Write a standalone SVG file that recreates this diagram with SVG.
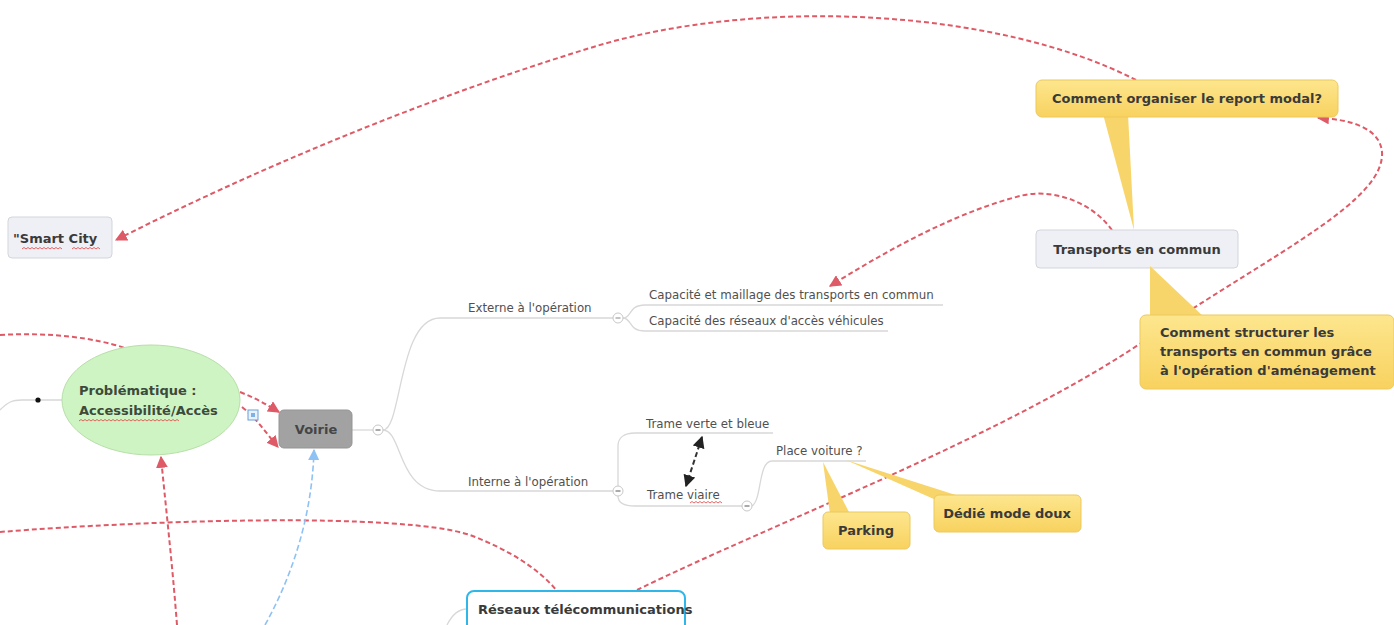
<svg xmlns="http://www.w3.org/2000/svg" width="1394" height="625" viewBox="0 0 1394 625">
<style>
.bold{font-family:"DejaVu Sans","Verdana",sans-serif;font-weight:bold;font-size:13px;fill:#3a3a3a}
.norm{font-family:"DejaVu Sans","Verdana",sans-serif;font-size:11.8px;fill:#505050}
.branch{fill:none;stroke:#d8d8d8;stroke-width:1.3}
.rel{fill:none;stroke:#de5a66;stroke-width:2;stroke-dasharray:5,3}
.relb{fill:none;stroke:#8fc2f4;stroke-width:1.6;stroke-dasharray:6,3}
.relk{fill:none;stroke:#333;stroke-width:2;stroke-dasharray:5,3}
.yellow{fill:url(#yg);stroke:#ecc95f;stroke-width:1}
.tail{fill:#f8d56a;stroke:none}
.grey{fill:#eff0f5;stroke:#d3d5dd;stroke-width:1}
.coll{fill:#fff;stroke:#c8c8c8;stroke-width:1}
.squig{fill:none;stroke:#e04040;stroke-width:0.8}
</style>
<defs>
<linearGradient id="yg" x1="0" y1="0" x2="0" y2="1">
<stop offset="0" stop-color="#fde68e"/>
<stop offset="1" stop-color="#f8d25f"/>
</linearGradient>
<marker id="ar" viewBox="0 0 10 10" refX="9" refY="5" markerWidth="6" markerHeight="6" orient="auto-start-reverse" markerUnits="strokeWidth">
<path d="M0,0 L10,5 L0,10 z" fill="#de5a66"/>
</marker>
<marker id="ab" viewBox="0 0 10 10" refX="9" refY="5" markerWidth="7" markerHeight="7" orient="auto-start-reverse" markerUnits="strokeWidth">
<path d="M0,0 L10,5 L0,10 z" fill="#8fc2f4"/>
</marker>
<marker id="ak" viewBox="0 0 10 10" refX="9" refY="5" markerWidth="6" markerHeight="6" orient="auto-start-reverse" markerUnits="strokeWidth">
<path d="M0,0 L10,5 L0,10 z" fill="#222"/>
</marker>
</defs>
<rect width="1394" height="625" fill="#fff"/>

<g id="branches">
<path class="branch" d="M0,410 C8,402 12,400 22,400 L62,400"/>
<circle cx="38" cy="400" r="2.6" fill="#111"/>
<path class="branch" d="M352,430 L373,430"/>
<path class="branch" d="M383,430 C402,430 398,318 440,318 L613,318"/>
<path class="branch" d="M383,430 C402,430 398,491 440,491 L613,491"/>
<path class="branch" d="M623,318 C632,318 628,305 645,305 L943,305"/>
<path class="branch" d="M623,318 C632,318 628,331 645,331 L888,331"/>
<path class="branch" d="M618,486 L618,446 C618,438 624,433 635,433 L773,433"/>
<path class="branch" d="M618,496 C618,503 624,506 635,506 L742,506"/>
<path class="branch" d="M752,506 C762,500 758,461 772,461 L866,461"/>
<path class="branch" d="M447,625 C452,615 458,609 467,609"/>
</g>

<g id="connectors">
<path class="rel" d="M1136,80 C1000,10 760,-5 590,48 C420,100 250,172 116,240" marker-end="url(#ar)"/>
<path class="rel" d="M1112,230 C1090,200 1050,188 1020,196 C950,214 880,255 830,286" marker-end="url(#ar)"/>
<path class="rel" d="M637,590 C780,520 1020,430 1160,330 C1280,250 1385,200 1382,152 C1380,128 1350,119 1318,118" marker-end="url(#ar)"/>
<path class="rel" d="M0,335 C50,332 95,338 125,348"/>
<path class="rel" d="M240,392 C255,398 266,404 279,412" marker-end="url(#ar)"/>
<path class="rel" d="M242,407 C258,420 266,433 278,447" marker-end="url(#ar)"/>
<path class="rel" d="M0,532 C150,520 400,512 470,535 C510,550 540,570 557,591"/>
<path class="rel" d="M177,625 C172,560 165,500 161,457" marker-end="url(#ar)"/>
<path class="relb" d="M265,625 C290,580 312,520 314,450" marker-end="url(#ab)"/>
<path class="relk" d="M702,437 L686,486" marker-start="url(#ak)" marker-end="url(#ak)"/>
</g>

<g id="smart-city">
<rect class="grey" x="8" y="217" width="104" height="41" rx="4"/>
<text class="bold" x="13" y="243">"Smart City</text>
<path class="squig" d="M22,249 l2,-1.5 l2,1.5 l2,-1.5 l2,1.5 l2,-1.5 l2,1.5 l2,-1.5 l2,1.5 l2,-1.5 l2,1.5 l2,-1.5 l2,1.5 l2,-1.5 l2,1.5 l2,-1.5 l2,1.5 l2,-1.5 l2,1.5 l2,-1.5 l2,1.5"/>
<path class="squig" d="M72,249 l2,-1.5 l2,1.5 l2,-1.5 l2,1.5 l2,-1.5 l2,1.5 l2,-1.5 l2,1.5 l2,-1.5 l2,1.5 l2,-1.5 l2,1.5 l2,-1.5 l2,1.5"/>
</g>

<g id="comment-organiser">
<polygon class="tail" points="1103,114 1128,114 1134,230"/>
<rect class="yellow" x="1036" y="80" width="302" height="37" rx="6"/>
<text class="bold" x="1187" y="103" text-anchor="middle">Comment organiser le report modal?</text>
</g>

<g id="transports-en-commun">
<rect class="grey" x="1036" y="230" width="202" height="38" rx="4"/>
<text class="bold" x="1137" y="254" text-anchor="middle">Transports en commun</text>
</g>

<g id="comment-structurer">
<polygon class="tail" points="1150,266 1150,318 1205,318"/>
<rect class="yellow" x="1140" y="315" width="254" height="74" rx="6"/>
<text class="bold" x="1160" y="337">Comment structurer les</text>
<text class="bold" x="1160" y="356">transports en commun grâce</text>
<text class="bold" x="1160" y="375">à l'opération d'aménagement</text>
</g>

<g id="problematique">
<ellipse cx="151" cy="400" rx="89" ry="55" fill="#cff4c4" stroke="#b7dfa8" stroke-width="1"/>
<text class="bold" x="79" y="395" style="fill:#3d4a3a">Problématique :</text>
<text class="bold" x="79" y="415" style="fill:#3d4a3a">Accessibilité/Accès</text>
<path class="squig" d="M79,421 l2,-1.5 l2,1.5 l2,-1.5 l2,1.5 l2,-1.5 l2,1.5 l2,-1.5 l2,1.5 l2,-1.5 l2,1.5 l2,-1.5 l2,1.5 l2,-1.5 l2,1.5 l2,-1.5 l2,1.5 l2,-1.5 l2,1.5 l2,-1.5 l2,1.5 l2,-1.5 l2,1.5 l2,-1.5 l2,1.5 l2,-1.5 l2,1.5 l2,-1.5 l2,1.5 l2,-1.5 l2,1.5 l2,-1.5 l2,1.5 l2,-1.5 l2,1.5 l2,-1.5 l2,1.5 l2,-1.5 l2,1.5 l2,-1.5 l2,1.5 l2,-1.5 l2,1.5 l2,-1.5 l2,1.5 l2,-1.5 l2,1.5 l2,-1.5 l2,1.5 l2,-1.5 l2,1.5"/>
<rect x="248" y="410" width="10" height="10" fill="#e8f2fc" stroke="#6d9fd6" stroke-width="1"/>
<rect x="251" y="413" width="4" height="4" fill="#7fb0e6"/>
</g>

<g id="voirie">
<rect x="279" y="410" width="73" height="38" rx="5" fill="#a2a2a2" stroke="#959595" stroke-width="1"/>
<text class="bold" x="316" y="434" text-anchor="middle" style="fill:#454545">Voirie</text>
<circle class="coll" cx="378" cy="430" r="5"/>
<path d="M375.5,430 h5" stroke="#555" stroke-width="1"/>
</g>

<g id="externe">
<text class="norm" x="468" y="312">Externe à l'opération</text>
<circle class="coll" cx="618" cy="318" r="5"/>
<path d="M615.5,318 h5" stroke="#888" stroke-width="1"/>
</g>

<g id="capacite-maillage">
<text class="norm" x="649" y="299">Capacité et maillage des transports en commun</text>
</g>

<g id="capacite-reseaux">
<text class="norm" x="649" y="325">Capacité des réseaux d'accès véhicules</text>
</g>

<g id="interne">
<text class="norm" x="468" y="486">Interne à l'opération</text>
<circle class="coll" cx="618" cy="491" r="5"/>
<path d="M615.5,491 h5" stroke="#555" stroke-width="1"/>
</g>

<g id="trame-verte">
<text class="norm" x="646" y="428">Trame verte et bleue</text>
</g>

<g id="trame-viaire">
<text class="norm" x="647" y="499">Trame viaire</text>
<path class="squig" d="M690,503 l2,-1.5 l2,1.5 l2,-1.5 l2,1.5 l2,-1.5 l2,1.5 l2,-1.5 l2,1.5 l2,-1.5 l2,1.5 l2,-1.5 l2,1.5 l2,-1.5 l2,1.5 l2,-1.5 l2,1.5"/>
<circle class="coll" cx="747" cy="506" r="5"/>
<path d="M744.5,506 h5" stroke="#555" stroke-width="1"/>
</g>

<g id="place-voiture">
<text class="norm" x="776" y="455">Place voiture ?</text>
</g>

<g id="parking">
<polygon class="tail" points="823,462 830,514 850,514"/>
<rect class="yellow" x="823" y="512" width="87" height="37" rx="5"/>
<text class="bold" x="866" y="535" text-anchor="middle">Parking</text>
</g>

<g id="dedie">
<polygon class="tail" points="846,460 936,500 962,497"/>
<rect class="yellow" x="934" y="495" width="147" height="37" rx="5"/>
<text class="bold" x="1007" y="518" text-anchor="middle">Dédié mode doux</text>
</g>

<g id="reseaux">
<rect x="467" y="591" width="218" height="44" rx="7" fill="#fff" stroke="#2fb7ea" stroke-width="2"/>
<text class="bold" x="478" y="614">Réseaux télécommunications</text>
</g>
</svg>
